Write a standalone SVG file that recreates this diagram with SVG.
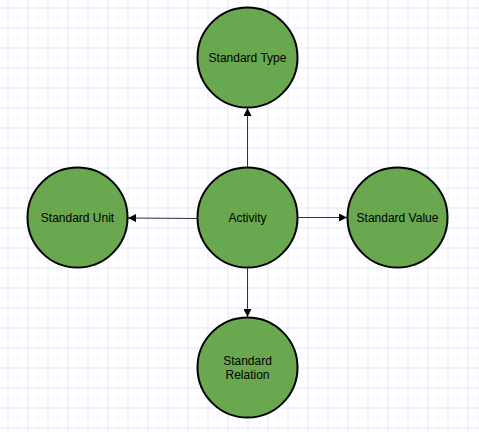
<svg xmlns="http://www.w3.org/2000/svg" width="479" height="432" viewBox="0 0 479 432">
<style>
.node circle{fill:#6aa84f;stroke:#000;stroke-width:2}
.node text{font-family:"Liberation Sans",Arial,sans-serif;font-size:12px;fill:#000;text-anchor:middle}
.edge{stroke:#333;stroke-width:1;fill:none;marker-end:url(#arr)}
</style>
<defs>
<pattern id="minor" width="10" height="10" patternUnits="userSpaceOnUse" x="-1.5" y="-1.5">
<path d="M10 0V10M0 10H10" fill="none" stroke="#e8e8ff" stroke-width="1"/>
</pattern>
<pattern id="major" width="20" height="20" patternUnits="userSpaceOnUse" x="-11.5" y="-11.5">
<path d="M20 0V20M0 20H20" fill="none" stroke="#dcdcfa" stroke-width="1"/>
</pattern>
<marker id="arr" viewBox="0 0 10 10" refX="10" refY="5" markerWidth="8" markerHeight="8" markerUnits="userSpaceOnUse" orient="auto">
<path d="M0 0L10 5L0 10Z" fill="#000"/>
</marker>
</defs>
<rect width="479" height="432" fill="#fff"/>
<rect width="479" height="432" fill="url(#minor)"/>
<rect width="479" height="432" fill="url(#major)"/>
<g id="connectors">
<line class="edge" x1="247.5" y1="167" x2="247.5" y2="108"/>
<line class="edge" x1="197" y1="218.5" x2="128" y2="218"/>
<line class="edge" x1="298" y1="217.5" x2="347" y2="217.5"/>
<line class="edge" x1="247.5" y1="268" x2="247.5" y2="317"/>
</g>
<g id="standard-type" class="node"><circle cx="247.5" cy="57.5" r="50"/><text x="247.5" y="61.5">Standard Type</text></g>
<g id="activity" class="node"><circle cx="247.5" cy="217.5" r="50"/><text x="247.5" y="221.5">Activity</text></g>
<g id="standard-unit" class="node"><circle cx="77.5" cy="217.5" r="50"/><text x="77.5" y="221.5">Standard Unit</text></g>
<g id="standard-value" class="node"><circle cx="397.5" cy="217.5" r="50"/><text x="397.5" y="221.5">Standard Value</text></g>
<g id="standard-relation" class="node"><circle cx="247.5" cy="367.5" r="50"/><text x="247.5" y="364.5">Standard</text><text x="247.5" y="379">Relation</text></g>
</svg>
